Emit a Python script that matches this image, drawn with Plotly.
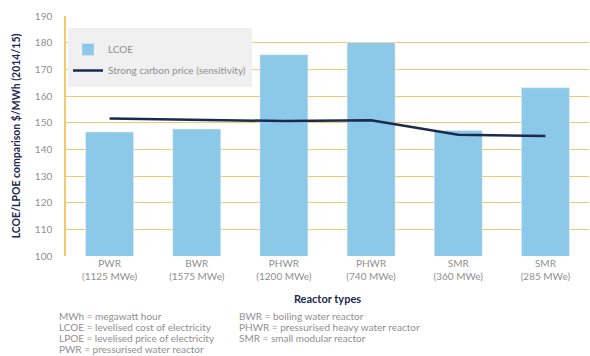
import plotly.graph_objects as go

categories = ["PWR<br>(1125 MWe)", "BWR<br>(1575 MWe)", "PHWR<br>(1200 MWe)",
              "PHWR<br>(740 MWe)", "SMR<br>(360 MWe)", "SMR<br>(285 MWe)"]
lcoe = [146.5, 147.6, 175.5, 180.0, 147.1, 163.1]
carbon = [151.6, 151.2, 150.6, 150.9, 145.5, 145.0]
y_ticks = [100, 110, 120, 130, 140, 150, 160, 170, 180, 190]

FONT = "Lato"
GRAY = "#8f8f8f"
NAVY = "#1c2a52"
GRID = "#f6c86e"

fig = go.Figure()
fig.add_trace(go.Bar(x=categories, y=lcoe, name="LCOE", marker_color="#8cc8e8",
                     legendgroup="a", base=0))
fig.add_trace(go.Scatter(x=categories, y=carbon, mode="lines",
                         name="Strong carbon price (sensitivity)",
                         line=dict(color=NAVY, width=2.5), legendgroup="b"))

PW = 523.0
PH = 240.0
def px(x):
    return (x - 66) / PW
def py(y):
    return (256 - y) / PH

fig.update_layout(
    width=590, height=356,
    margin=dict(l=66, r=1, t=16, b=100),
    paper_bgcolor="white", plot_bgcolor="white",
    bargap=0.45,
    font=dict(family=FONT, color=GRAY, size=10),
    showlegend=True,
    legend=dict(x=px(68), y=py(35), xanchor="left", yanchor="top",
                bgcolor="rgba(0,0,0,0)", font=dict(size=10, color=GRAY),
                tracegroupgap=2, borderwidth=0,
                itemwidth=30),
    xaxis=dict(showgrid=False, showline=False, ticks="", tickfont=dict(size=10, color=GRAY),
               title=dict(text="<b>Reactor types</b>", font=dict(size=11, color=NAVY), standoff=14)),
    yaxis=dict(range=[100, 190], tickvals=y_ticks, showgrid=True, gridcolor=GRID, gridwidth=1.2,
               showline=True, linecolor=GRID, linewidth=1.5, zeroline=False,
               ticks="", ticklabelstandoff=10, tickfont=dict(size=10, color=GRAY),
               title=dict(text="<b>LCOE/LPOE comparison $/MWh (2014/15)</b>",
                          font=dict(size=10.5, color=NAVY), standoff=12)),
)

fig.add_shape(type="rect", xref="paper", yref="paper",
              x0=px(68), x1=px(252), y0=py(87), y1=py(28),
              fillcolor="#f0f0f0", line=dict(width=0), layer="above")

left_notes = ["MWh = megawatt hour", "LCOE = levelised cost of electricity",
              "LPOE = levelised price of electricity", "PWR = pressurised water reactor"]
right_notes = ["BWR = boiling water reactor", "PHWR = pressurised heavy water reactor",
               "SMR = small modular reactor"]
for i, t in enumerate(left_notes):
    fig.add_annotation(text=t, xref="paper", yref="paper", x=px(57),
                       y=py(316 + i * 11), xanchor="left", yanchor="middle",
                       showarrow=False, font=dict(size=10, color=GRAY))
for i, t in enumerate(right_notes):
    fig.add_annotation(text=t, xref="paper", yref="paper", x=px(237),
                       y=py(316 + i * 11), xanchor="left", yanchor="middle",
                       showarrow=False, font=dict(size=10, color=GRAY))

fig.write_html("out.html")
